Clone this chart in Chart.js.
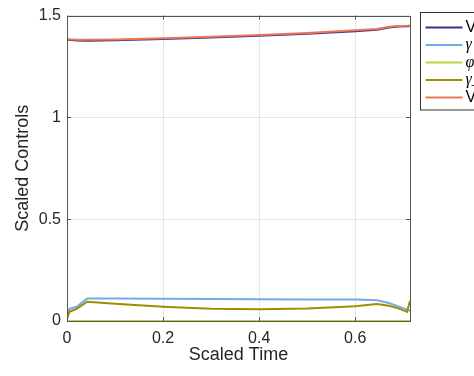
<!DOCTYPE html>
<html>
<head>
<meta charset="utf-8">
<script src="https://cdn.jsdelivr.net/npm/chart.js@4/dist/chart.umd.min.js"></script>
<style>
  html, body { margin: 0; padding: 0; background: #fff; }
  #wrap { width: 474px; height: 376px; }
</style>
</head>
<body>
<div id="wrap"><canvas id="chart" width="474" height="376"></canvas></div>
<script>
// scaled time samples shared by every series
const time = [0, 0.005, 0.02, 0.042, 0.1, 0.2, 0.3, 0.4, 0.5, 0.6, 0.645, 0.67, 0.69, 0.708, 0.714];

const seriesLabels = ['V', 'γ', 'φ', 'γ_s', 'V_ref'];
const vValues     = [1.383, 1.381, 1.378, 1.377, 1.379, 1.385, 1.392, 1.401, 1.411, 1.423, 1.430, 1.442, 1.447, 1.448, 1.449];
const gammaValues = [0.035, 0.06, 0.07, 0.110, 0.110, 0.109, 0.108, 0.107, 0.106, 0.105, 0.102, 0.088, 0.072, 0.056, 0.05];
const phiValues   = [0, 0, 0, 0, 0, 0, 0, 0, 0, 0, 0, 0, 0, 0, 0];
const gammaSValues = [0.01, 0.045, 0.06, 0.095, 0.085, 0.07, 0.06, 0.058, 0.062, 0.072, 0.083, 0.075, 0.062, 0.045, 0.10];
const vRefValues  = [1.386, 1.384, 1.381, 1.381, 1.383, 1.389, 1.396, 1.405, 1.415, 1.428, 1.434, 1.445, 1.449, 1.450, 1.451];

const xTicks = [0, 0.2, 0.4, 0.6];
const yTicks = [0, 0.5, 1, 1.5];

const colors = ['#43308e', '#74a9ec', '#bcd744', '#9e8c07', '#ee7656'];
const drawOrder = [0, 0, 0, -1, -2];
const allValues = [vValues, gammaValues, phiValues, gammaSValues, vRefValues];

function pts(vals) {
    return time.map((t, i) => ({ x: t, y: vals[i] }));
}

const AXIS = '#555555';
const TXT = '#262626';

// box round the axes with inward ticks, and the legend on the right
const framePlugin = {
    id: 'frame',
    afterDraw(chart) {
        const ctx = chart.ctx;
        const a = chart.chartArea;
        const xs = chart.scales.x, ys = chart.scales.y;
        ctx.save();
        ctx.strokeStyle = AXIS;
        ctx.lineWidth = 1;
        ctx.strokeRect(Math.round(a.left) + 0.5, Math.round(a.top) + 0.5,
            Math.round(a.right - a.left), Math.round(a.bottom - a.top));
        ctx.beginPath();
        xTicks.forEach(v => {
            const px = Math.round(xs.getPixelForValue(v)) + 0.5;
            ctx.moveTo(px, a.bottom); ctx.lineTo(px, a.bottom - 4);
            ctx.moveTo(px, a.top); ctx.lineTo(px, a.top + 4);
        });
        yTicks.forEach(v => {
            const py = Math.round(ys.getPixelForValue(v)) + 0.5;
            ctx.moveTo(a.left, py); ctx.lineTo(a.left + 4, py);
            ctx.moveTo(a.right, py); ctx.lineTo(a.right - 4, py);
        });
        ctx.stroke();

        // legend
        const lx = 420.5, ly = 12.5, rowH = 17.5;
        ctx.fillStyle = '#fff';
        ctx.fillRect(lx, ly, 80, rowH * 5 + 10);
        ctx.strokeStyle = '#333';
        ctx.strokeRect(lx, ly, 80, rowH * 5 + 10);
        seriesLabels.forEach((lab, i) => {
            const y = ly + 15 + i * rowH;
            ctx.strokeStyle = colors[i];
            ctx.lineWidth = 2;
            ctx.beginPath();
            ctx.moveTo(lx + 5, y); ctx.lineTo(lx + 42, y);
            ctx.stroke();
            const greek = lab[0] === 'γ' || lab[0] === 'φ';
            ctx.font = greek ? 'italic 16px "Liberation Serif"' : '16px "Liberation Sans"';
            ctx.fillStyle = '#000';
            ctx.textBaseline = 'middle';
            ctx.fillText(lab, lx + 45, y);
        });
        ctx.restore();
    }
};

const fmt = v => String(Number(v.toFixed(2)));

new Chart(document.getElementById('chart').getContext('2d'), {
    type: 'line',
    data: {
        datasets: seriesLabels.map((lab, i) => ({
            label: lab,
            data: pts(allValues[i]),
            borderColor: colors[i],
            borderWidth: 2,
            pointRadius: 0,
            tension: 0,
            fill: false,
            order: drawOrder[i]
        }))
    },
    options: {
        responsive: false,
        animation: false,
        events: [],
        layout: { padding: { top: 15, right: 64, left: 0, bottom: 0 } },
        plugins: { legend: { display: false }, tooltip: { enabled: false } },
        scales: {
            x: {
                type: 'linear',
                min: 0,
                max: 0.714,
                afterFit: s => { s.height = 55; },
                afterBuildTicks: s => { s.ticks = xTicks.map(v => ({ value: v })); },
                grid: { color: '#e6e6e6', drawTicks: false },
                border: { display: false },
                ticks: { callback: fmt, padding: 8, color: TXT, font: { family: 'Liberation Sans', size: 16 } },
                title: { display: true, text: 'Scaled Time', color: TXT, padding: 10,
                         font: { family: 'Liberation Sans', size: 18 } }
            },
            y: {
                min: 0,
                max: 1.5,
                afterFit: s => { s.width = 67; },
                afterBuildTicks: s => { s.ticks = yTicks.map(v => ({ value: v })); },
                grid: { color: '#e6e6e6', drawTicks: false },
                border: { display: false },
                ticks: { callback: fmt, padding: 6, color: TXT, font: { family: 'Liberation Sans', size: 16 } },
                title: { display: true, text: 'Scaled Controls', color: TXT, padding: 12,
                         font: { family: 'Liberation Sans', size: 18 } }
            }
        }
    },
    plugins: [framePlugin]
});
</script>
</body>
</html>
